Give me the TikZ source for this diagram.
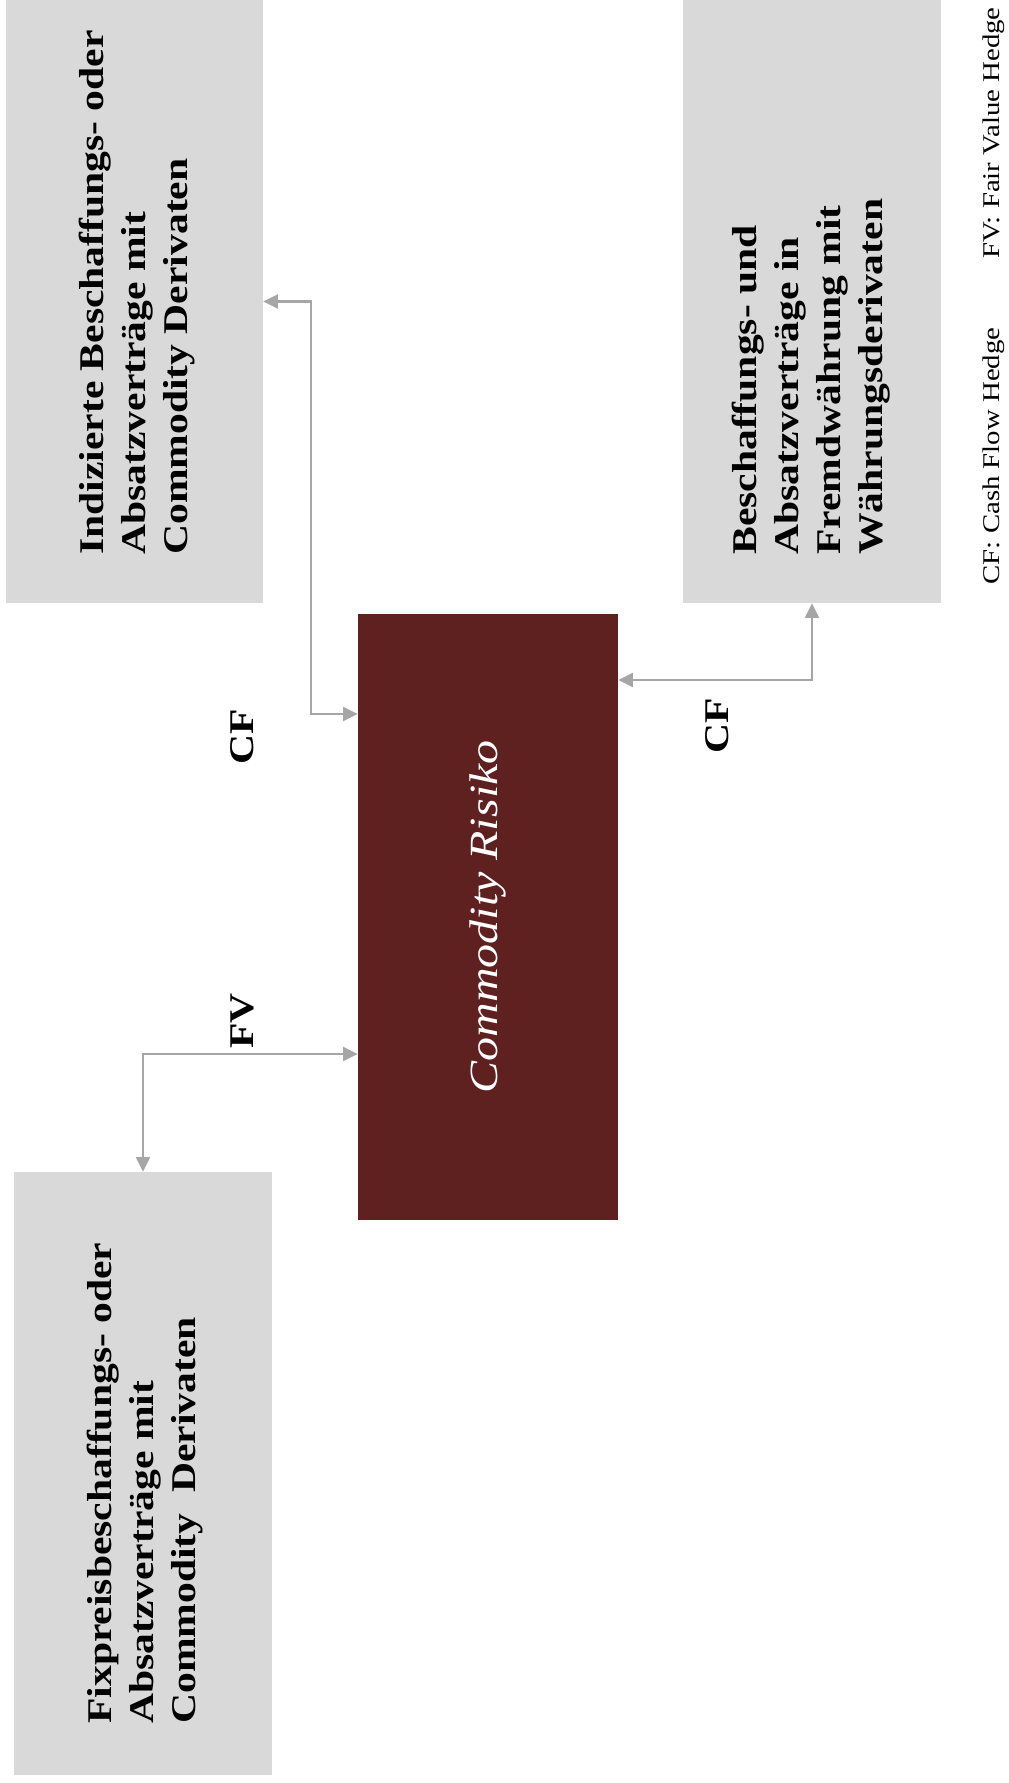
\documentclass[tikz,border=0pt]{standalone}
\usepackage{fontspec}
\setmainfont{Liberation Serif}[FakeStretch=1.2]
\usetikzlibrary{arrows.meta,fit}
\definecolor{boxgray}{HTML}{D9D9D9}
\definecolor{riskred}{HTML}{5F2120}
\definecolor{linkgray}{HTML}{A6A6A6}
\begin{document}
\begin{tikzpicture}[x=0.75pt,y=-0.75pt,
  panel/.style={fill=boxgray, draw=none, inner sep=0pt},
  riskbox/.style={fill=riskred, draw=none, inner sep=0pt},
  paneltext/.style={rotate=90, anchor=west, align=left, inner sep=0pt,
    font=\bfseries\fontsize{26}{31.5}\selectfont},
  risktext/.style={rotate=90, inner sep=0pt, text=white,
    font=\itshape\fontsize{30}{36}\selectfont},
  hedgelabel/.style={rotate=90, inner sep=0pt,
    font=\bfseries\fontsize{26}{31.5}\selectfont},
  legendtext/.style={rotate=90, inner sep=0pt,
    font=\fontsize{18}{22}\selectfont},
  link/.style={draw=linkgray, line width=1.6pt, {Triangle[length=11pt,width=10.5pt]}-{Triangle[length=11pt,width=10.5pt]}}]

% canvas
\fill[white] (0,0) rectangle (1008,1783);
\useasboundingbox (0,0) rectangle (1008,1783);

% boxes
\node[panel, fit={(6,0) (263,603)}] (b1) {};
\node[panel, fit={(683,0) (941,603)}] (b3) {};
\node[panel, fit={(14,1172) (272,1775)}] (b2) {};
\node[riskbox, fit={(358,614) (618,1220)}] (cr) {};

% box texts
\node[paneltext] (t1) at (137,555)
  {Indizierte Beschaffungs- oder\\Absatzverträge mit\\Commodity Derivaten};
\node[paneltext] (t3) at (811,555)
  {Beschaffungs- und\\Absatzverträge in\\Fremdwährung mit\\Währungsderivaten};
\node[paneltext] (t2) at (145,1724)
  {Fixpreisbeschaffungs- oder\\Absatzverträge mit\\Commodity~ Derivaten};
\node[risktext] (t0) at (cr) {Commodity Risiko};

% connectors
\coordinate (k1) at (311,714);
\coordinate (k2) at (812,680);
\coordinate (k3) at (143,1054);
\draw[link] (b1.east) -| (k1) -- (cr.west |- k1);
\draw[link] (cr.east |- k2) -| (b3.south);
\draw[link] (cr.west |- k3) -| (b2.north);

% hedge labels
\node[hedgelabel] (cf1) at (242,737) {CF};
\node[hedgelabel] (fv1) at (242,1021) {FV};
\node[hedgelabel] (cf2) at (717,726) {CF};

% legend
\node[legendtext] (lcf) at (994,456) {CF: Cash Flow Hedge};
\node[legendtext] (lfv) at (994,133) {FV: Fair Value Hedge};
\end{tikzpicture}
\end{document}
